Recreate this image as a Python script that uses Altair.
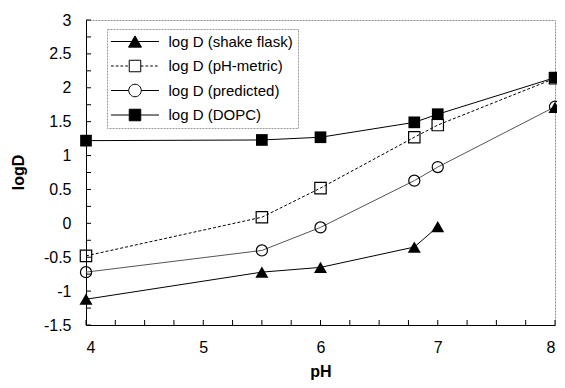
import altair as alt
import pandas as pd

# ---- data ----
PH = [4, 5.5, 6, 6.8, 7, 8]
SHAKE = [-1.12, -0.72, -0.65, -0.35, -0.05, 1.71]
PHMETRIC = [-0.48, 0.09, 0.52, 1.27, 1.45, 2.14]
PREDICTED = [-0.72, -0.40, -0.06, 0.63, 0.83, 1.72]
DOPC = [1.22, 1.23, 1.27, 1.49, 1.61, 2.15]
SHAKE_LINE_MAX_PH = 7  # shake-flask line is not drawn to pH 8

SERIES = ["log D (shake flask)", "log D (pH-metric)", "log D (predicted)", "log D (DOPC)"]

X_LABELS = [4, 5, 6, 7, 8]
Y_LABELS = [-1.5, -1, -0.5, 0, 0.5, 1, 1.5, 2, 2.5, 3]
X_TICKS = [4, 4.25, 4.5, 4.75, 5, 5.25, 5.5, 5.75, 6, 6.25, 6.5, 6.75, 7, 7.25, 7.5, 7.75, 8]
Y_TICKS = [-1.5, -1.25, -1, -0.75, -0.5, -0.25, 0, 0.25, 0.5, 0.75, 1, 1.25, 1.5,
           1.75, 2, 2.25, 2.5, 2.75, 3]

W, H = 469, 305
FONT = "Liberation Sans"

rows = []
for name, vals in zip(SERIES, [SHAKE, PHMETRIC, PREDICTED, DOPC]):
    for p, v in zip(PH, vals):
        rows.append({"series": name, "pH": p, "logD": v})
df = pd.DataFrame(rows)

xs = alt.Scale(domain=[4, 8], nice=False, zero=False)
ys = alt.Scale(domain=[-1.5, 3], nice=False, zero=False)

base = alt.Chart(df)


def sel(name):
    return base.transform_filter(alt.datum.series == name)


x_axis = alt.Axis(values=X_LABELS, grid=False, ticks=False, tickSize=0, labelPadding=14,
                  labelFont=FONT, labelFontSize=16, labelColor="black",
                  domainColor="black", domainWidth=1,
                  title="pH", titleFont=FONT, titleFontSize=16, titleFontWeight="bold",
                  titleColor="black", titleY=46, titleBaseline="middle")
y_axis = alt.Axis(values=Y_LABELS, grid=False, ticks=False, tickSize=0, labelPadding=15,
                  labelFont=FONT, labelFontSize=16, labelColor="black",
                  labelExpr="datum.value + ''",
                  domainColor="black", domainWidth=1,
                  title="logD", titleFont=FONT, titleFontSize=16, titleFontWeight="bold",
                  titleColor="black", titleX=-68, titleY=152, titleAngle=270,
                  titleBaseline="middle", titleAlign="center")

X = alt.X("pH:Q", scale=xs, axis=x_axis)
Y = alt.Y("logD:Q", scale=ys, axis=y_axis)


def enc(layer):
    return layer.encode(x=X, y=Y)


line_dopc = enc(sel(SERIES[3]).mark_line(color="black", strokeWidth=1))
line_pred = enc(sel(SERIES[2]).mark_line(color="#555555", strokeWidth=1))
line_phm = enc(sel(SERIES[1]).mark_line(color="black", strokeWidth=1, strokeDash=[3, 2]))
line_shake = enc(sel(SERIES[0]).transform_filter(alt.datum.pH <= SHAKE_LINE_MAX_PH)
                 .mark_line(color="black", strokeWidth=1))

pt_shake = enc(sel(SERIES[0]).mark_point(shape="triangle-up", size=169, filled=True,
                                          color="black", opacity=1))
pt_phm = enc(sel(SERIES[1]).mark_point(shape="square", size=130, filled=False,
                                        color="black", strokeWidth=1.2, opacity=1))
pt_pred = enc(sel(SERIES[2]).mark_point(shape="circle", size=123, filled=False,
                                         color="black", strokeWidth=1.2, opacity=1))
pt_dopc = enc(sel(SERIES[3]).mark_point(shape="square", size=137, filled=True,
                                         color="black", opacity=1))

# inward ticks
ytick = alt.Chart(pd.DataFrame({"logD": Y_TICKS})).mark_rule(color="black", strokeWidth=1).encode(
    y=Y, x=alt.value(0), x2=alt.value(5))
xtick = alt.Chart(pd.DataFrame({"pH": X_TICKS})).mark_rule(color="black", strokeWidth=1).encode(
    x=X, y=alt.value(H), y2=alt.value(H - 5))

# legend symbols: line + marker drawn as custom paths (unit = 4.5 px)
L = 5.33


def dotted(x0, x1, dash=0.6, gap=0.45):
    out, x = [], x0
    while x < x1:
        e = min(x + dash, x1)
        out.append(f"M{x:.2f},0H{e:.2f}")
        x = e + gap
    return "".join(out)


PATHS = [
    f"M{-L},0H{L}M0,-1.25L1.44,1.25L-1.44,1.25Z",
    dotted(-L, -1.28) + dotted(1.28, L) + "M-1.28,-1.28H1.28V1.28H-1.28Z",
    f"M{-L},0H-1.39M1.39,0H{L}M-1.39,0A1.39,1.39 0 1,1 1.39,0A1.39,1.39 0 1,1 -1.39,0Z",
    f"M{-L},0H{L}M-1.28,-1.28H1.28V1.28H-1.28Z",
]
FILLS = ["black", "transparent", "transparent", "black"]
STROKES = ["black", "black", "black", "black"]

leg = alt.Legend(title=None, orient="none", legendX=21, legendY=9)
helper = alt.Chart(pd.DataFrame({"series": SERIES})).mark_point(
    clip=True, size=81, filled=True, strokeWidth=1, opacity=1
).encode(
    x=alt.value(-300), y=alt.value(-300),
    shape=alt.Shape("series:N", scale=alt.Scale(domain=SERIES, range=PATHS), legend=leg),
    fill=alt.Fill("series:N", scale=alt.Scale(domain=SERIES, range=FILLS), legend=leg),
    stroke=alt.Stroke("series:N", scale=alt.Scale(domain=SERIES, range=STROKES), legend=leg),
)

chart = alt.layer(
    line_dopc, line_pred, line_phm, line_shake,
    pt_shake, pt_phm, pt_pred, pt_dopc,
    ytick, xtick, helper,
).properties(
    width=W, height=H,
    padding={"left": 78, "top": 12, "right": 2, "bottom": 55},
    autosize=alt.AutoSizeParams(type="none"),
    background="white",
).configure_view(
    stroke="#8a8a8a", strokeWidth=1, strokeDash=[2, 1]
).configure_legend(
    labelFont=FONT, labelFontSize=15, labelColor="black",
    padding=5, rowPadding=7.5, strokeColor="#999999", strokeDash=[2, 1],
    symbolSize=81, symbolStrokeWidth=1, symbolStrokeColor="black",
    symbolOffset=15.5, labelOffset=26,
)

chart.save("out.html", embed_options={"renderer": "svg", "actions": False})
